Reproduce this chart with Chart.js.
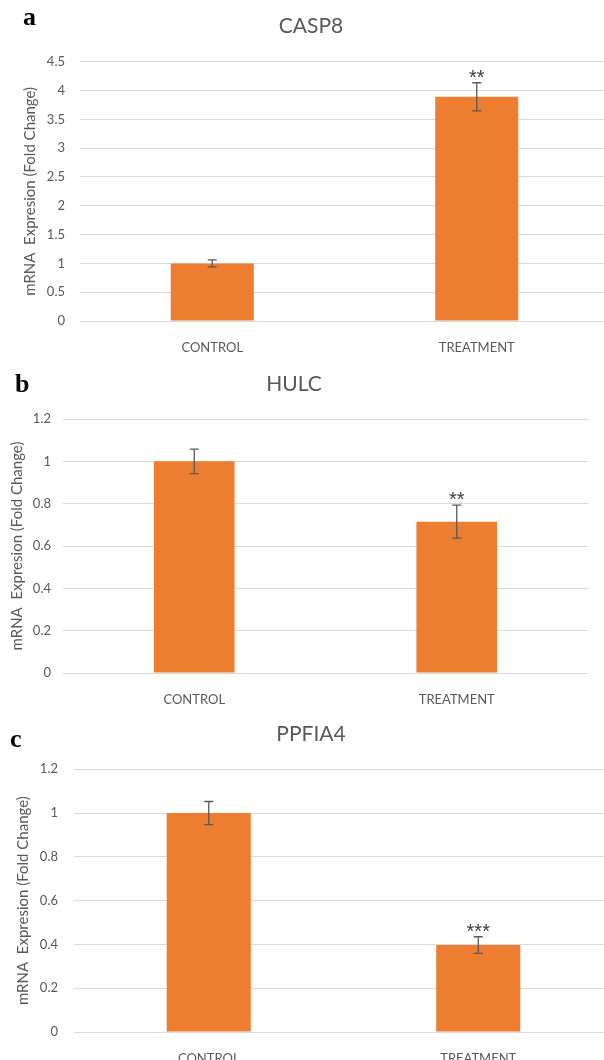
<!DOCTYPE html>
<html>
<head>
<meta charset="utf-8">
<script src="https://cdn.jsdelivr.net/npm/chart.js@4.4.0/dist/chart.umd.min.js"></script>
<style>
  html, body { margin: 0; padding: 0; background: #fff; overflow: hidden; }
  body { width: 604px; height: 1060px; position: relative; }
  .panel { position: absolute; left: 0; }
  .letter {
    position: absolute;
    font-family: "Liberation Serif", "DejaVu Serif", serif;
    font-weight: bold;
    font-size: 26px;
    line-height: 26px;
    color: #000;
    z-index: 2;
  }
</style>
</head>
<body>
<div class="panel" style="top:0px;width:612px;height:361px"><canvas id="chartA"></canvas></div>
<div class="panel" style="top:350px;width:604px;height:363px"><canvas id="chartB"></canvas></div>
<div class="panel" style="top:710px;width:616px;height:362px"><canvas id="chartC"></canvas></div>
<div class="letter" style="left:23px;top:4px">a</div>
<div class="letter" style="left:15px;top:371px">b</div>
<div class="letter" style="left:10px;top:726px">c</div>
<script>
const categories = ["CONTROL", "TREATMENT"];

const casp8Values = [1.0, 3.89];
const casp8Errors = [0.06, 0.245];
const casp8Marks = ["", "**"];
const casp8Ticks = [0, 0.5, 1, 1.5, 2, 2.5, 3, 3.5, 4, 4.5];

const hulcValues = [1.0, 0.715];
const hulcErrors = [0.058, 0.078];
const hulcMarks = ["", "**"];
const hulcTicks = [0, 0.2, 0.4, 0.6, 0.8, 1, 1.2];

const ppfia4Values = [1.0, 0.397];
const ppfia4Errors = [0.053, 0.038];
const ppfia4Marks = ["", "***"];
const ppfia4Ticks = [0, 0.2, 0.4, 0.6, 0.8, 1, 1.2];

const yTitle = "mRNA  Expresion (Fold Change)";

Chart.defaults.font.family = "Lato";
Chart.defaults.color = "#595959";

// error bars + significance stars, drawn from the y scale
const errorBars = {
  id: "errorBars",
  afterDatasetsDraw(chart, args, opts) {
    const ctx = chart.ctx;
    const y = chart.scales.y;
    const ds = chart.data.datasets[0];
    const meta = chart.getDatasetMeta(0);
    ctx.save();
    ctx.strokeStyle = "#595959";
    ctx.lineWidth = 1.3;
    meta.data.forEach((bar, i) => {
      const v = ds.data[i];
      const e = opts.errors[i];
      const top = y.getPixelForValue(v + e);
      const bot = y.getPixelForValue(v - e);
      ctx.beginPath();
      ctx.moveTo(bar.x, top);
      ctx.lineTo(bar.x, bot);
      ctx.moveTo(bar.x - 4.5, top);
      ctx.lineTo(bar.x + 4.5, top);
      ctx.moveTo(bar.x - 4.5, bot);
      ctx.lineTo(bar.x + 4.5, bot);
      ctx.stroke();
      if (opts.marks[i]) {
        ctx.fillStyle = "#404040";
        ctx.font = "20px 'Liberation Sans'";
        ctx.textAlign = "center";
        ctx.textBaseline = "alphabetic";
        ctx.fillText(opts.marks[i], bar.x, top + 1);
      }
    });
    ctx.restore();
  },
};

function makeChart(id, p) {
  return new Chart(document.getElementById(id), {
    type: "bar",
    data: {
      labels: categories,
      datasets: [
        {
          data: p.values,
          backgroundColor: "#ED7D31",
          borderWidth: 0,
          categoryPercentage: 1,
          barPercentage: p.barPct,
        },
      ],
    },
    options: {
      responsive: true,
      maintainAspectRatio: false,
      animation: false,
      layout: { padding: { left: p.padLeft, right: p.padRight, top: 0, bottom: 0 } },
      plugins: {
        legend: { display: false },
        tooltip: { enabled: false },
        title: {
          display: true,
          text: p.title,
          color: "#595959",
          font: { size: 21, weight: "normal", lineHeight: 1.2 },
          padding: { top: p.titleTop, bottom: p.titleBottom },
        },
        errorBars: { errors: p.errors, marks: p.marks },
      },
      scales: {
        x: {
          offset: true,
          grid: { display: false },
          border: { display: false },
          ticks: { font: { size: 13 }, padding: 11, maxRotation: 0 },
          afterFit: (s) => { s.height = 40; },
        },
        y: {
          min: 0,
          max: p.max,
          grid: { color: "#D9D9D9", lineWidth: 1, drawTicks: false },
          border: { display: false },
          afterBuildTicks: (axis) => { axis.ticks = p.ticks.map((v) => ({ value: v })); },
          ticks: {
            font: { size: 13 },
            padding: p.tickPad,
            callback: (value) => String(value),
          },
          title: {
            display: true,
            text: yTitle,
            color: "#595959",
            font: { size: 15, weight: "normal", lineHeight: 1.2 },
            padding: { top: p.yTitlePad, bottom: 0 },
          },
          afterFit: (s) => { s.width = p.yWidth; },
        },
      },
    },
    plugins: [errorBars],
  });
}

makeChart("chartA", {
  title: "CASP8", values: casp8Values, errors: casp8Errors, marks: casp8Marks,
  ticks: casp8Ticks, max: 4.5, barPct: 0.314,
  padLeft: 13, padRight: 3, yWidth: 67, tickPad: 15, yTitlePad: 8,
  titleTop: 13.4, titleBottom: 23.1,
});

makeChart("chartB", {
  title: "HULC", values: hulcValues, errors: hulcErrors, marks: hulcMarks,
  ticks: hulcTicks, max: 1.2, barPct: 0.307,
  padLeft: 0, padRight: 16, yWidth: 63, tickPad: 12, yTitlePad: 8,
  titleTop: 21.9, titleBottom: 21.9,
});

makeChart("chartC", {
  title: "PPFIA4", values: ppfia4Values, errors: ppfia4Errors, marks: ppfia4Marks,
  ticks: ppfia4Ticks, max: 1.2, barPct: 0.312,
  padLeft: 9, padRight: 3, yWidth: 65, tickPad: 16, yTitlePad: 5,
  titleTop: 11.4, titleBottom: 22.7,
});
</script>
</body>
</html>
